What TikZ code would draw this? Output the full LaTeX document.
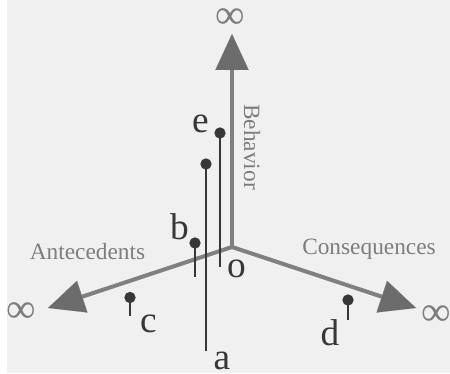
\documentclass[tikz,border=0pt]{standalone}
\usepackage{fontspec}
\setmainfont{Liberation Serif}
\usetikzlibrary{arrows.meta}

\definecolor{paper}{RGB}{240,240,240}
\definecolor{axisgray}{RGB}{128,128,128}
\definecolor{headgray}{RGB}{108,108,108}
\definecolor{lblgray}{RGB}{125,125,125}
\definecolor{ink}{RGB}{55,55,55}

\begin{document}
\begin{tikzpicture}[x=0.75pt, y=-0.75pt,
        axisline/.style={draw=axisgray, line width=3pt,
                    -{Triangle[length=27pt, width=25pt, line width=0.1pt, color=headgray]}},
        axlbl/.style={text=lblgray, font=\fontsize{17.5}{20}\selectfont,
                    inner sep=0pt, anchor=base},
        inf/.style={text=lblgray, font=\fontsize{31}{34}\selectfont, inner sep=0pt},
        ltr/.style={text=ink, font=\fontsize{28}{31}\selectfont,
                    inner sep=0pt, anchor=base},
        pindot/.style={circle, fill=ink, inner sep=0pt, minimum size=8.5pt},
        stem/.style={draw=ink, line width=1pt}]
      % page
      \fill[white] (0,0) rectangle (450,374);
      \fill[paper] (7,0) rectangle (450,373);
      \useasboundingbox (0,0) rectangle (450,374);
      % the three axes
      \coordinate (o) at (232,247);
      \coordinate (up) at (232,34);
      \coordinate (lt) at (48,308);
      \coordinate (rt) at (416,308);
      \draw[axisline] (o) -- (up);
      \draw[axisline] (o) -- (lt);
      \draw[axisline] (o) -- (rt);
      \node[inf] (iup) at (230,19) {∞};
      \node[inf] (ilt) at (21,313) {∞};
      \node[inf] (irt) at (436,316) {∞};
      \node[axlbl, rotate=-90, anchor=center] (beh) at (252,147) {Behavior};
      \node[axlbl] (ant) at (87.5,259) {Antecedents};
      \node[axlbl] (con) at (369,254) {Consequences};
      \node[ltr] (lo) at (236.5,277) {o};
      % points
      \node[pindot] (de) at (220,133) {};
      \node[pindot] (da) at (206,164) {};
      \node[pindot] (db) at (195,243) {};
      \node[pindot] (dc) at (130,297.5) {};
      \node[pindot] (dd) at (348,300) {};
      \node[ltr] (le) at (200.5,133) {e};
      \node[ltr] (la) at (222,369) {a};
      \node[ltr] (lb) at (179.5,239) {b};
      \node[ltr] (lc) at (148.5,332) {c};
      \node[ltr] (ld) at (330,345) {d};
      \coordinate (se) at (220,267);
      \coordinate (sb) at (195,277);
      \coordinate (sc) at (130,316);
      \coordinate (sd) at (348,320);
      \draw[stem] (de.center) -- (se);
      \draw[stem] (da.center) -- (la.north -| da.center);
      \draw[stem] (db.center) -- (sb);
      \draw[stem] (dc.center) -- (sc);
      \draw[stem] (dd.center) -- (sd);
\end{tikzpicture}
\end{document}
